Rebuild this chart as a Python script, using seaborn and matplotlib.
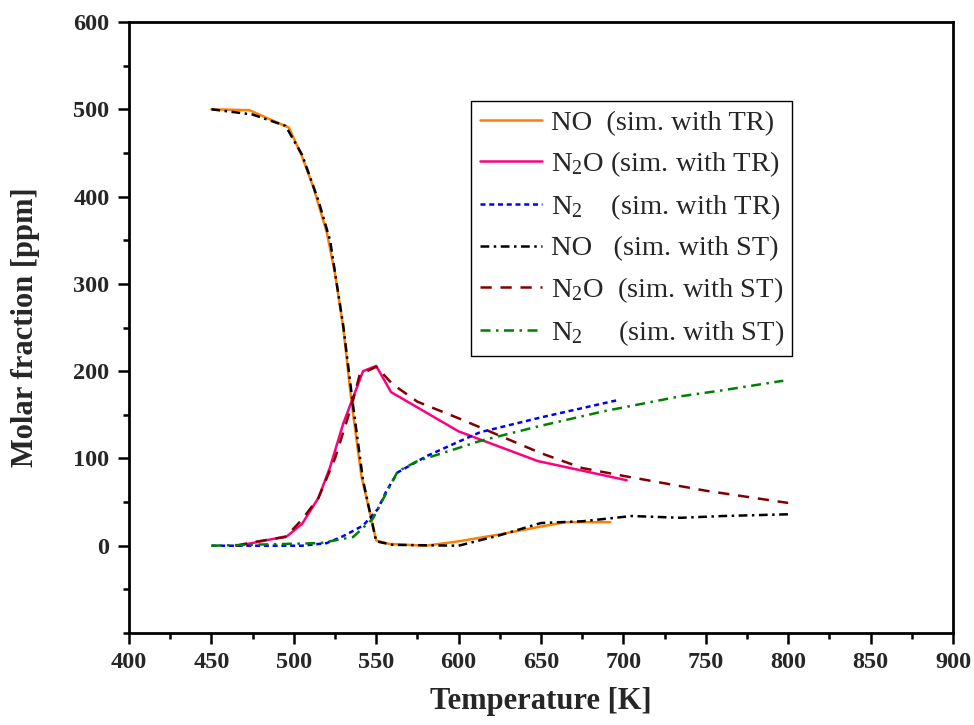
import matplotlib
matplotlib.use("Agg")
import matplotlib.pyplot as plt
from matplotlib.ticker import MultipleLocator
import seaborn as sns
import pandas as pd

# ---- data ----
no_tr_T = [450, 473, 497, 505, 512, 520, 525, 530, 535, 541, 550, 558, 580, 600, 625, 650, 665, 692]
no_tr_v = [500, 499, 479, 446, 410, 359, 312, 250, 165, 80, 6, 2, 0, 5, 13, 22, 27, 27]

n2o_tr_T = [465, 472, 496, 505, 515, 522, 530, 542, 550, 559, 600, 648, 702]
n2o_tr_v = [0, 2, 11, 25, 55, 90, 140, 200, 206, 176, 131, 97, 75]

n2_tr_T = [450, 505, 520, 530, 542, 551, 556, 563, 581, 601, 613, 650, 697]
n2_tr_v = [0, 0, 3, 11, 23, 42, 62, 84, 103, 120, 130, 147, 167]

no_st_T = [450, 475, 495, 505, 515, 522, 530, 536, 542, 550, 560, 600, 625, 650, 675, 705, 735, 760, 800]
no_st_v = [500, 494, 481, 448, 395, 350, 252, 160, 75, 5, 1, 0, 12, 26, 28, 34, 32, 34, 36]

n2o_st_T = [465, 475, 495, 505, 515, 525, 535, 540, 550, 560, 575, 600, 625, 650, 675, 700, 750, 800]
n2o_st_v = [0, 4, 10, 30, 55, 100, 160, 196, 205, 185, 165, 146, 126, 106, 89, 80, 63, 49]

n2_st_T = [450, 516, 536, 548, 556, 563, 575, 600, 613, 649, 688, 734, 760, 797]
n2_st_v = [0, 3, 10, 31, 60, 85, 97, 112, 120, 137, 154, 171, 178, 189]

labels = ["NO  (sim. with TR)", "N$_2$O (sim. with TR)", "N$_2$    (sim. with TR)",
          "NO   (sim. with ST)", "N$_2$O  (sim. with ST)", "N$_2$     (sim. with ST)"]

series = [(no_tr_T, no_tr_v), (n2o_tr_T, n2o_tr_v), (n2_tr_T, n2_tr_v),
          (no_st_T, no_st_v), (n2o_st_T, n2o_st_v), (n2_st_T, n2_st_v)]

colors = ["#FF8000", "#FF0080", "#0000FF", "#000000", "#800000", "#008000"]
dashes = [None, None, (2, 1.5), (3.5, 1.8, 1, 1.8), (4.5, 3.5), (4, 2.2, 1, 2.2)]

sns.set_theme(style="ticks")
plt.rcParams["font.family"] = ["Liberation Serif", "DejaVu Serif"]
plt.rcParams["mathtext.fontset"] = "custom"
plt.rcParams["mathtext.rm"] = "Liberation Serif"
plt.rcParams["mathtext.it"] = "Liberation Serif:italic"

fig = plt.figure(figsize=(9.74, 7.25), dpi=100)
ax = fig.add_axes([129 / 974, 1 - 633 / 725, 824 / 974, 611 / 725])

for (T, v), lab, c, d in zip(series, labels, colors, dashes):
    df = pd.DataFrame({"T": T, "v": v})
    sns.lineplot(data=df, x="T", y="v", ax=ax, color=c, label=lab,
                 sort=False, estimator=None, linewidth=1.8)
    line = ax.get_lines()[-1]
    if d is not None:
        line.set_dashes(d)

ax.set_xlim(400, 900)
ax.set_ylim(-100, 600)
ax.set_xticks(range(400, 901, 50))
ax.set_yticks(range(0, 601, 100))
ax.xaxis.set_minor_locator(MultipleLocator(25))
ax.yaxis.set_minor_locator(MultipleLocator(50))

for s in ax.spines.values():
    s.set_linewidth(2)
    s.set_color("black")
ax.tick_params(which="major", direction="out", length=8, width=1.8, color="black",
               labelsize=17.5, pad=6, top=False, right=False)
ax.tick_params(which="minor", direction="out", length=4.5, width=1.8, color="black",
               top=False, right=False)
for lab in ax.get_xticklabels() + ax.get_yticklabels():
    lab.set_fontweight("bold")

ax.set_xlabel("Temperature [K]", fontsize=22, fontweight="bold", labelpad=10)
ax.set_ylabel("Molar fraction [ppm]", fontsize=22, fontweight="bold", labelpad=24)

leg = ax.legend(loc="upper left", bbox_to_anchor=(0.415, 0.87), fontsize=20.5,
                frameon=True, fancybox=False, edgecolor="black", framealpha=1,
                handlelength=2.2, handletextpad=0.3, labelspacing=0.47,
                borderpad=0.3, borderaxespad=0)
leg.get_frame().set_linewidth(1.0)

fig.savefig("out.png", dpi=100)
